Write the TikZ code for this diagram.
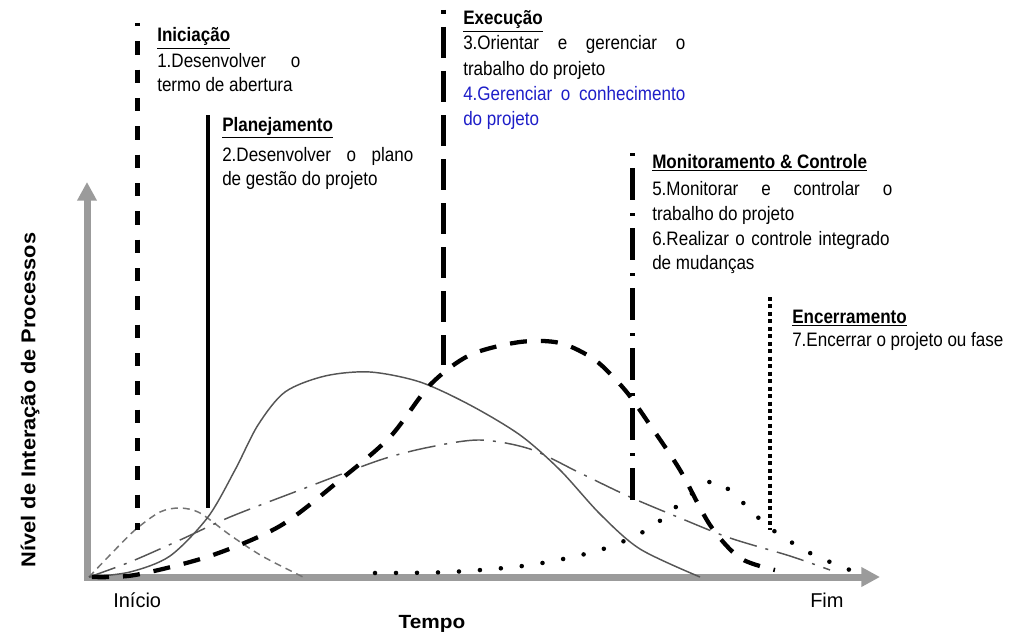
\documentclass[tikz,border=0pt]{standalone}
\usepackage{fontspec}
\setmainfont{Liberation Sans}[FakeStretch=0.875]
\newfontfamily\plainfont{Liberation Sans}
\newfontfamily\widefont{Liberation Sans}[FakeStretch=1.09]
\usetikzlibrary{arrows.meta}
\definecolor{axisgray}{RGB}{155,155,155}
\definecolor{curvegray}{RGB}{85,85,85}
\definecolor{lightcurve}{RGB}{115,115,115}
\definecolor{bluetext}{RGB}{30,30,200}
\newcommand\jline[2]{\makebox[#1][s]{#2}}
\begin{document}
\begin{tikzpicture}[x=0.75pt,y=-0.75pt,
  txt/.style={inner sep=0pt, anchor=base west, font=\fontsize{14.6}{18}\selectfont},
  head/.style={txt, font=\fontsize{14.6}{18}\selectfont\bfseries},
  axisline/.style={draw=axisgray, line width=5.25pt, line join=miter,
    {Triangle[length=14pt,width=14pt]}-{Triangle[length=14pt,width=14pt]}},
  iniline/.style={line width=3.75pt, dash pattern=on 10pt off 11.25pt, dash phase=7.5pt},
  planline/.style={line width=3pt},
  execline/.style={line width=3.75pt, dash pattern=on 23.25pt off 9.75pt, dash phase=20.25pt},
  monline/.style={line width=3.75pt, dash pattern=on 2.25pt off 9pt on 24pt off 9.75pt},
  encline/.style={line width=3pt, dash pattern=on 3pt off 2.6pt},
  curveini/.style={draw=lightcurve, line width=1.1pt, dash pattern=on 5.25pt off 3.75pt},
  curveplan/.style={draw=curvegray, line width=1.1pt},
  curveexec/.style={draw=black, line width=3.2pt, dash pattern=on 12.75pt off 10.5pt},
  curvemon/.style={draw=curvegray, line width=1.1pt, dash pattern=on 21pt off 6.75pt on 2.25pt off 6.75pt},
  curveenc/.style={draw=black, line width=3.4pt, line cap=round, dash pattern=on 0pt off 15.75pt}
]
\useasboundingbox (0,0) rectangle (1010,635);

% axes
\coordinate (ytip) at (87,182);
\coordinate (origin) at (87,577);
\coordinate (xtip) at (880,577);
\draw[axisline] (ytip) -- (origin) -- (xtip);

% curves
\draw[curveini] plot[smooth] coordinates {(89,577) (110,555) (135,530) (160,512) (180,508) (200,513) (230,535) (262,556) (303,577)};
\draw[curveplan] plot[smooth] coordinates {(89,577) (130,572) (170,556) (208,517) (235,470) (258,425) (285,392) (325,376) (370,372) (420,382) (470,405) (520,435) (560,470) (600,514) (640,549) (700,577)};
\draw[curvemon] plot[smooth] coordinates {(89,577) (130,562) (180,540) (230,517) (300,490) (380,460) (430,447) (480,440) (530,449) (580,473) (630,497) (680,518) (730,538) (790,556) (830,570)};
\draw[curveexec] plot[smooth] coordinates {(92,577) (135,575) (210,556) (280,526) (340,480) (390,437) (430,385) (470,355) (520,342) (560,343) (595,360) (625,390) (650,425) (680,470) (710,525) (740,558) (775,570)};
\draw[curveenc] plot[smooth] coordinates {(375,573) (450,572) (530,565) (600,550) (650,528) (690,495) (715,481) (740,500) (770,528) (810,553) (850,570)};

% phase lines
\coordinate (iniA) at (137,23);  \coordinate (iniB) at (137,530);
\coordinate (plaA) at (208,115); \coordinate (plaB) at (208,508);
\coordinate (exeA) at (443,10);  \coordinate (exeB) at (443,365);
\coordinate (monA) at (632,153); \coordinate (monB) at (632,500);
\coordinate (encA) at (770,297); \coordinate (encB) at (770,530);
\draw[iniline] (iniA) -- (iniB);
\draw[planline] (plaA) -- (plaB);
\draw[execline] (exeA) -- (exeB);
\draw[monline] (monA) -- (monB);
\draw[encline] (encA) -- (encB);

% Iniciacao
\node[head] (ini0) at (157,42) {\underline{Iniciação}};
\node[txt] (ini1) at (157,68) {\jline{107.25pt}{1.Desenvolver o}};
\node[txt] (ini2) at (157,92) {termo de abertura};

% Planejamento
\node[head] (pla0) at (222,131) {\underline{Planejamento}};
\node[txt] (pla1) at (222,161) {\jline{143.25pt}{2.Desenvolver o plano}};
\node[txt] (pla2) at (222,185) {de gestão do projeto};

% Execucao
\node[head] (exe0) at (463,25) {\underline{Execução}};
\node[txt] (exe1) at (463,50) {\jline{166.5pt}{3.Orientar e gerenciar o}};
\node[txt] (exe2) at (463,75) {trabalho do projeto};
\node[txt, text=bluetext] (exe3) at (463,100) {\jline{166.5pt}{4.Gerenciar o conhecimento}};
\node[txt, text=bluetext] (exe4) at (463,125) {do projeto};

% Monitoramento
\node[head] (mon0) at (652,168) {\underline{Monitoramento \& Controle}};
\node[txt] (mon1) at (652,195) {\jline{180pt}{5.Monitorar e controlar o}};
\node[txt] (mon2) at (652,220) {trabalho do projeto};
\node[txt] (mon3) at (652,245) {\jline{178pt}{6.Realizar o controle integrado}};
\node[txt] (mon4) at (652,269) {de mudanças};

% Encerramento
\node[head] (enc0) at (792,323) {\underline{Encerramento}};
\node[txt] (enc1) at (792,346) {7.Encerrar o projeto ou fase};

% axis labels
\node[inner sep=0pt, rotate=90, font=\widefont\fontsize{15}{18}\selectfont\bfseries] (ylab) at (30,400) {Nível de Interação de Processos};
\node[inner sep=0pt, anchor=base, font=\widefont\fontsize{14.3}{18}\selectfont\bfseries] (tempo) at (432,628) {Tempo};
\node[inner sep=0pt, anchor=base west, font=\plainfont\fontsize{15}{18}\selectfont] (inicio) at (113,607) {Início};
\node[inner sep=0pt, anchor=base west, font=\plainfont\fontsize{15}{18}\selectfont] (fim) at (810,607) {Fim};
\end{tikzpicture}
\end{document}
